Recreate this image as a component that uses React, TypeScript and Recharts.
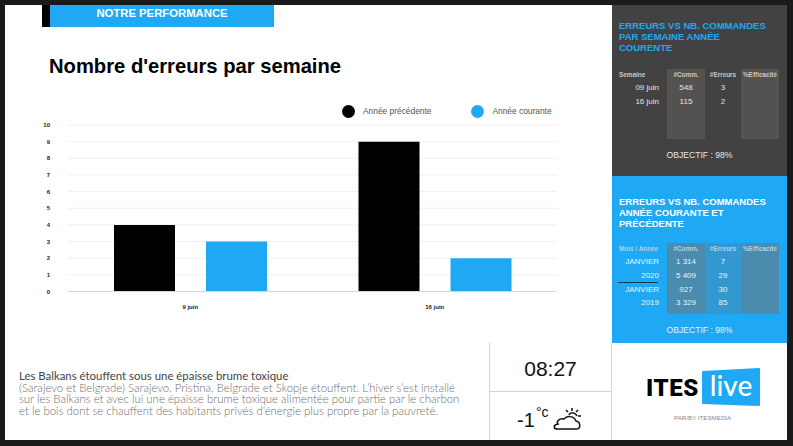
import { BarChart, Bar, XAxis, YAxis, CartesianGrid, Legend } from 'recharts'
import type { CSSProperties } from 'react'

const weeks = ['9 juin', '16 juin']
const previousYear = [4, 9]
const currentYear = [3, 2]
const yTicks = [0, 1, 2, 3, 4, 5, 6, 7, 8, 9, 10]

const weekHeaders = ['Semaine', '#Comm.', '#Erreurs', '%Efficacité']
const weekRows = [
  ['09 juin', '548', '3'],
  ['16 juin', '115', '2'],
]
const yearHeaders = ['Mois / Année', '#Comm.', '#Erreurs', '%Efficacité']
const yearRows = [
  ['JANVIER', '1 314', '7'],
  ['2020', '5 409', '29'],
  ['JANVIER', '927', '30'],
  ['2019', '3 329', '85'],
]
const newsLines = [
  '(Sarajevo et Belgrade) Sarajevo, Pristina, Belgrade et Skopje étouffent. L’hiver s’est installé',
  'sur les Balkans et avec lui une épaisse brume toxique alimentée pour partie par le charbon',
  'et le bois dont se chauffent des habitants privés d’énergie plus propre par la pauvreté.',
]

const BLUE = '#1fa9f4'
const SANS = '"Liberation Sans", Arial, sans-serif'

const data = weeks.map((week, i) => ({ week, previous: previousYear[i], current: currentYear[i] }))

const abs = (left: number, top: number, width: number, height: number): CSSProperties => ({
  position: 'absolute', left, top, width, height,
})

function Label({ x, y, w, align = 'left', size, color, bold, children }: any) {
  return (
    <div style={{
      position: 'absolute', left: x, top: y, width: w, textAlign: align, fontSize: size, color,
      fontWeight: bold ? 700 : 400, whiteSpace: 'nowrap', lineHeight: 1,
    }}>
      {children}
    </div>
  )
}

function SideTable({ top, height, shade, midShade, headers, rows, rowStep, headColor, textColor }: any) {
  return (
    <>
      <div style={{ ...abs(667, top, 38, height), background: shade }} />
      <div style={{ ...abs(705, top, 36, height), background: midShade }} />
      <div style={{ ...abs(741, top, 38, height), background: shade }} />
      <Label x={619} y={top + 3} size={6.4} color={headColor} bold>{headers[0]}</Label>
      <Label x={667} y={top + 3} w={38} align="center" size={6.4} color={headColor} bold>{headers[1]}</Label>
      <Label x={705} y={top + 3} w={36} align="center" size={6.4} color={headColor} bold>{headers[2]}</Label>
      <Label x={741} y={top + 3} w={38} align="center" size={6.4} color={headColor} bold>{headers[3]}</Label>
      {rows.map((row: string[], i: number) => {
        const y = top + 15 + i * rowStep
        return (
          <div key={i}>
            <Label x={610} y={y} w={49} align="right" size={8} color={textColor}>{row[0]}</Label>
            <Label x={667} y={y} w={38} align="center" size={8} color={textColor}>{row[1]}</Label>
            <Label x={705} y={y} w={36} align="center" size={8} color={textColor}>{row[2]}</Label>
          </div>
        )
      })}
    </>
  )
}

export default function App() {
  return (
    <div style={{ ...abs(0, 0, 793, 446), background: '#1a1a1a', overflow: 'hidden', fontFamily: SANS }}>
      <style>{'body{margin:0}'}</style>
      <div style={{ ...abs(5, 5, 607, 435), background: '#fff' }} />

      {/* header band */}
      <div style={{ ...abs(42, 5, 8, 22), background: '#000' }} />
      <div style={{ ...abs(50, 5, 224, 22), background: BLUE }} />
      <Label x={50} y={8} w={224} align="center" size={11.3} color="#fff" bold>NOTRE PERFORMANCE</Label>
      <Label x={49} y={56} size={20.2} color="#000" bold>Nombre d'erreurs par semaine</Label>

      <div style={abs(0, 90, 600, 240)}>
        <BarChart
          width={600}
          height={240}
          data={data}
          barSize={61}
          barGap={31}
          margin={{ top: 22, right: 43, left: 0, bottom: 8.5 }}
        >
          <CartesianGrid vertical={false} stroke="#f0f0f0" />
          <XAxis
            dataKey="week"
            axisLine={{ stroke: '#d6d6d6' }}
            tickLine={false}
            tick={{ fontSize: 6, fontWeight: 700, fill: '#222', fontFamily: SANS }}
            tickMargin={7}
          />
          <YAxis
            width={68}
            domain={[0, 10]}
            ticks={yTicks}
            axisLine={false}
            tickLine={false}
            interval={0}
            tick={{ fontSize: 6, fontWeight: 700, fill: '#222', fontFamily: SANS, dx: -10 }}
          />
          <Legend
            verticalAlign="top"
            align="left"
            iconType="circle"
            iconSize={13}
            itemSorter={(item: any) => (item.dataKey === 'previous' ? 0 : 1)}
            wrapperStyle={{ position: 'absolute', top: 15, left: 342, width: 258, fontSize: 8.4, margin: 0 }}
            formatter={(value) => <span style={{ color: '#555', fontSize: 8.4, marginLeft: 4, marginRight: 30 }}>{value}</span>}
          />
          <Bar dataKey="previous" name="Année précédente" fill="#000" isAnimationActive={false} />
          <Bar dataKey="current" name="Année courante" fill={BLUE} isAnimationActive={false} />
        </BarChart>
      </div>

      {/* news */}
      <div style={{ ...abs(19, 370, 460, 50), fontFamily: 'Lato, sans-serif', fontSize: 11.4, lineHeight: '11.7px', color: '#6e6e6e', fontWeight: 300, whiteSpace: 'nowrap' }}>
        <div style={{ color: '#444', fontWeight: 400 }}>Les Balkans étouffent sous une épaisse brume toxique</div>
        {newsLines.map((line) => <div key={line}>{line}</div>)}
      </div>

      {/* right panels */}
      <div style={{ ...abs(612, 5, 175, 171), background: '#424242' }} />
      <div style={{ ...abs(612, 176, 175, 167), background: BLUE }} />
      <div style={{ ...abs(612, 343, 175, 97), background: '#fff' }} />
      <div style={{ ...abs(489, 343, 123, 97), background: '#fff', borderLeft: '1px solid #d4d4d4', borderRight: '1px solid #d4d4d4', boxSizing: 'border-box' }} />
      <div style={{ ...abs(489, 391, 123, 1), background: '#d4d4d4' }} />

      <div style={{ position: 'absolute', left: 619, top: 20, fontSize: 9.5, lineHeight: '11px', fontWeight: 700, color: BLUE, whiteSpace: 'nowrap' }}>
        ERREURS VS NB. COMMANDES<br />PAR SEMAINE ANNÉE<br />COURENTE
      </div>
      <SideTable top={69} height={70} shade="#545250" midShade="#424242" headers={weekHeaders} rows={weekRows} rowStep={13.5} headColor="#c8c8c8" textColor="#e4e4e4" />
      <Label x={612} y={151} w={175} align="center" size={8.6} color="#e8e8e8">OBJECTIF : 98%</Label>

      <div style={{ position: 'absolute', left: 619, top: 196, fontSize: 9.5, lineHeight: '11px', fontWeight: 700, color: '#fff', whiteSpace: 'nowrap' }}>
        ERREURS VS NB. COMMANDES<br />ANNÉE COURANTE ET<br />PRÉCÉDENTE
      </div>
      <SideTable top={243} height={71} shade="#4b8bad" midShade="#3498d0" headers={yearHeaders} rows={yearRows} rowStep={13.8} headColor="#a9d3ea" textColor="#e6f4fc" />
      <div style={{ ...abs(618, 282, 40, 1), background: '#123a55' }} />
      <Label x={612} y={326} w={175} align="center" size={8.6} color="#e0f3fd">OBJECTIF : 98%</Label>

      {/* clock and weather */}
      <Label x={490} y={358} w={121} align="center" size={21} color="#111">08:27</Label>
      <Label x={517} y={410} size={20} color="#111">-1</Label>
      <Label x={536} y={405} size={14} color="#111">°c</Label>
      <svg style={abs(552, 406, 30, 26)} viewBox="0 0 30 26" fill="none" stroke="#111" strokeWidth="1.5">
        <path d="M6 23 H24 C29 23 29 16 24 15 C22 10 15 9 12 13 C7 12 4 16 6 18 C1 19 1 23 6 23 Z" fill="#fff" />
        <path d="M17 9 C18 6 23 6 25 10 M20 2 V5 M26 4 L24 6 M29 10 H26 M14 4 L16 6" />
      </svg>

      {/* logo */}
      <div style={{ position: 'absolute', left: 646, top: 376, fontFamily: 'Roboto, sans-serif', fontWeight: 900, fontSize: 24, lineHeight: 1, letterSpacing: 0.6, color: '#000', whiteSpace: 'nowrap' }}>ITES</div>
      <svg style={abs(700, 366, 62, 42)} viewBox="0 0 62 42">
        <path d="M3 5 L59 2 Q60 2 60 3 L60 39 Q60 40 59 40 L3 38 Q2 38 2 37 L2 6 Q2 5 3 5 Z" fill={BLUE} />
      </svg>
      <div style={{ position: 'absolute', left: 702, top: 371, width: 58, textAlign: 'center', fontFamily: 'Lato, sans-serif', fontWeight: 500, fontSize: 28, lineHeight: 1, color: '#fff', whiteSpace: 'nowrap' }}>live</div>
      <Label x={674} y={415} size={6.2} color="#8a8a8a">PAR/BY ITESMEDIA</Label>
    </div>
  )
}
